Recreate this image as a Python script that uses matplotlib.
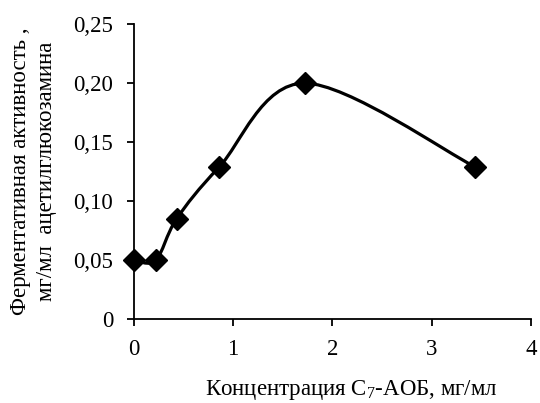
import numpy as np
import matplotlib.pyplot as plt
from matplotlib.path import Path
from matplotlib.patches import PathPatch
from matplotlib.ticker import FuncFormatter

plt.rcParams['font.family'] = ['Liberation Serif', 'DejaVu Serif']
plt.rcParams['mathtext.fontset'] = 'custom'
plt.rcParams['mathtext.rm'] = 'Liberation Serif'
plt.rcParams['mathtext.it'] = 'Liberation Serif'

# data
conc = [0.0, 0.22, 0.43, 0.86, 1.72, 3.44]
activity = [0.05, 0.05, 0.085, 0.129, 0.2, 0.129]

# excel-like smoothed line (bezier through the points)
def smooth_path(x, y):
    p = np.column_stack([x, y])
    n = len(p)
    verts = [p[0]]
    codes = [Path.MOVETO]
    for i in range(n - 1):
        p0 = p[i - 1] if i > 0 else p[i]
        p3 = p[i + 2] if i + 2 < n else p[i + 1]
        c1 = p[i] + (p[i + 1] - p0) / 6
        c2 = p[i + 1] - (p3 - p[i]) / 6
        verts += [c1, c2, p[i + 1]]
        codes += [Path.CURVE4] * 3
    return Path(verts, codes)

fig = plt.figure(figsize=(5.4, 4.03), dpi=100)
ax = fig.add_axes([0.248, 0.208, 0.735, 0.732])

ax.add_patch(PathPatch(smooth_path(conc, activity), fill=False, lw=2.3,
                       edgecolor='black', zorder=2))
ax.plot(conc, activity, ls='none', marker='D', ms=11, color='black',
        clip_on=False, zorder=3)

ax.set_xlim(0, 4)
ax.set_ylim(0, 0.25)
ax.set_xticks([0, 1, 2, 3, 4])
ax.set_yticks([0, 0.05, 0.10, 0.15, 0.20, 0.25])
ax.yaxis.set_major_formatter(FuncFormatter(
    lambda v, _: '0' if v == 0 else ('%.2f' % v).replace('.', ',')))

for s in ['top', 'right']:
    ax.spines[s].set_visible(False)
for s in ['left', 'bottom']:
    ax.spines[s].set_linewidth(1.3)
ax.tick_params(direction='out', length=5, width=1.3, labelsize=16.5)
ax.tick_params(axis='y', pad=10)
ax.tick_params(axis='x', pad=9)

ax.set_xlabel(r'Концентрация С$_7$-АОБ, мг/мл', fontsize=16.5)
ax.xaxis.set_label_coords(0.548, -0.2)
ax.set_ylabel('Ферментативная активность ,\nмг/мл  ацетилглюкозамина',
              fontsize=16.5, linespacing=1.3)
ax.yaxis.set_label_coords(-0.195, 0.5)

fig.savefig('out.png', dpi=100)
